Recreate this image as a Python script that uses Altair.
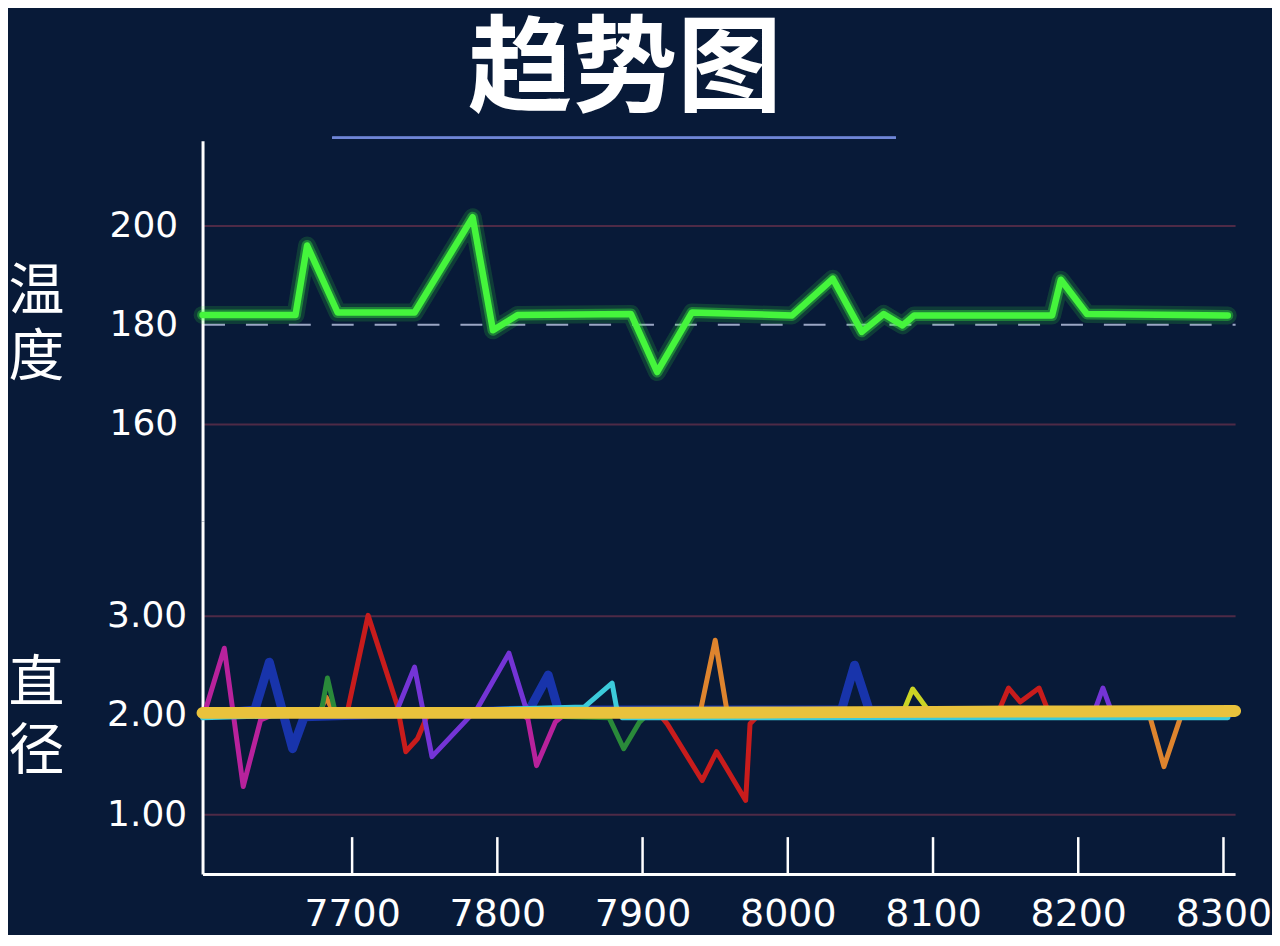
import altair as alt
import pandas as pd

# ---------------- data ----------------
# x position of each series point (sample index) and its value
temp_x = [7597, 7661, 7669, 7690, 7743, 7783, 7797, 7814, 7892, 7910, 7934,
          8003, 8031, 8051, 8066, 8079, 8087, 8182, 8188, 8206, 8303]
temp_y = [181.9, 181.9, 195.9, 182.4, 182.4, 201.6, 178.8, 181.9, 182.1, 170.4, 182.4,
          181.8, 189.2, 178.5, 182.1, 179.8, 181.8, 181.8, 189.0, 182.1, 181.8]

magenta_x = [7597, 7599, 7612, 7625, 7637, 7645, 7818, 7821, 7827, 7840, 7846, 8303]
magenta_y = [2.0, 2.05, 2.67, 1.28, 1.95, 2.0, 2.0, 1.96, 1.49, 1.93, 2.0, 2.0]

blue_x = [7597, 7633, 7643, 7659, 7667, 7822, 7835, 7842, 8037, 8046, 8056, 8303]
blue_y = [2.0, 2.05, 2.53, 1.66, 1.98, 2.05, 2.40, 2.05, 2.05, 2.50, 2.05, 2.0]

red_x = [7597, 7697, 7711, 7731, 7737, 7745, 7752, 7912, 7917, 7941, 7951, 7971,
         7974, 7980, 8144, 8147, 8152, 8160, 8173, 8179, 8183, 8303]
red_y = [2.0, 2.05, 3.0, 2.10, 1.63, 1.76, 2.0, 2.0, 1.91, 1.34, 1.63, 1.14,
         1.91, 2.0, 2.0, 2.10, 2.27, 2.13, 2.27, 2.05, 2.0, 2.0]

purple_x = [7597, 7731, 7743, 7755, 7786, 7808, 7819, 7824, 8211, 8217, 8223, 8303]
purple_y = [2.0, 2.05, 2.48, 1.58, 2.06, 2.62, 2.10, 2.0, 2.03, 2.27, 2.03, 2.0]

orange_x = [7597, 7678, 7682, 7687, 7937, 7940, 7950, 7958, 8249, 8259, 8271, 8303]
orange_y = [2.0, 2.03, 2.18, 2.03, 2.0, 2.05, 2.75, 2.05, 2.0, 1.48, 2.0, 2.0]

green_x = [7597, 7679, 7683, 7688, 7877, 7887, 7898, 7903, 8303]
green_y = [2.0, 2.05, 2.37, 2.05, 1.97, 1.66, 1.93, 2.0, 2.0]

cyan_x = [7597, 7860, 7879, 7882, 7886, 8303]
cyan_y = [1.97, 2.08, 2.32, 2.08, 1.97, 1.97]

lime_x = [7597, 8080, 8086, 8097, 8303]
lime_y = [2.0, 2.05, 2.26, 2.04, 2.0]

yellow_x = [7597, 7700, 7800, 7900, 8000, 8100, 8200, 8308]
yellow_y = [2.02, 2.02, 2.02, 2.022, 2.025, 2.03, 2.035, 2.04]

x_ticks = [7700, 7800, 7900, 8000, 8100, 8200, 8300]
temp_ticks = [160, 180, 200]
dia_ticks = [1.0, 2.0, 3.0]

series_colors = {
    "magenta": "#b8229c",
    "red": "#c81c1c",
    "purple": "#7434d6",
    "orange": "#de842e",
    "green": "#2a8a3a",
    "cyan": "#3ccbdc",
    "lime": "#cbd424",
    "blue": "#1e3ed2",
    "yellow": "#e9c23c",
}

# ---------------- tables ----------------
temp_df = pd.DataFrame({"x": temp_x, "v": temp_y})

def mk(name, xs, ys):
    return pd.DataFrame({"x": xs, "v": ys, "s": name, "o": range(len(xs))})

thin_df = pd.concat([
    mk("magenta", magenta_x, magenta_y),
    mk("red", red_x, red_y),
    mk("purple", purple_x, purple_y),
    mk("orange", orange_x, orange_y),
    mk("green", green_x, green_y),
    mk("cyan", cyan_x, cyan_y),
    mk("lime", lime_x, lime_y),
], ignore_index=True)
blue_df = mk("blue", blue_x, blue_y)
yellow_df = mk("yellow", yellow_x, yellow_y)
tick_df = pd.DataFrame({"t": x_ticks})

W = 1035
H_TOP = 381
H_BOT = 354
XDOM = [7597, 8308]

color_scale = alt.Scale(domain=list(series_colors.keys()), range=list(series_colors.values()))

# ---------------- top panel (temperature) ----------------
x_top = alt.X("x:Q", scale=alt.Scale(domain=XDOM, nice=False, zero=False), axis=None)
y_top = alt.Y(
    "v:Q",
    scale=alt.Scale(domain=[140.4, 217], nice=False, zero=False),
    axis=alt.Axis(
        values=temp_ticks,
        title=["温", "度"],
        titleAngle=0,
        titleX=-167,
        titleY=151,
        titleAlign="center",
        titleBaseline="middle",
        titleFont="Noto Sans CJK SC",
        titleFontSize=56,
        titleFontWeight="normal",
        titleLineHeight=66,
        titleColor="white",
        labelColor="white",
        labelFont="DejaVu Sans",
        labelFontSize=36,
        labelPadding=25,
        ticks=False,
        domainColor="white",
        domainWidth=3,
        grid=True,
        gridWidth=2,
        gridColor={"condition": {"test": "datum.value == 180", "value": "#9aa6c4"}, "value": "#4e2a46"},
        gridDash={"condition": {"test": "datum.value == 180", "value": [22, 21]}, "value": []},
    ),
)

temp_base = alt.Chart(temp_df).encode(x=x_top, y=y_top)
glow_outer = temp_base.mark_line(color="#3cff3c", strokeWidth=18, opacity=0.15, strokeJoin="round", strokeCap="round")
glow_inner = temp_base.mark_line(color="#3cff3c", strokeWidth=11, opacity=0.35, strokeJoin="round", strokeCap="round")
temp_line = temp_base.mark_line(color="#45f53c", strokeWidth=6.5, strokeJoin="round", strokeCap="round")

underline = alt.Chart(tick_df).mark_rule(color="#6f86d6", strokeWidth=2, opacity=0.9).encode(
    x=alt.value(130), x2=alt.value(695), y=alt.value(-3)
)

top = alt.layer(glow_outer, glow_inner, temp_line, underline).properties(width=W, height=H_TOP)

# ---------------- bottom panel (diameter) ----------------
x_bot = alt.X(
    "x:Q",
    scale=alt.Scale(domain=XDOM, nice=False, zero=False),
    axis=alt.Axis(
        values=x_ticks,
        title=None,
        format="d",
        labelColor="white",
        labelFont="DejaVu Sans",
        labelFontSize=38,
        labelPadding=22,
        ticks=False,
        grid=False,
        domainColor="white",
        domainWidth=3,
    ),
)
y_bot = alt.Y(
    "v:Q",
    scale=alt.Scale(domain=[0.4, 3.95], nice=False, zero=False),
    axis=alt.Axis(
        values=dia_ticks,
        format=".2f",
        title=["直", "径"],
        titleAngle=0,
        titleX=-167,
        titleY=163,
        titleAlign="center",
        titleBaseline="middle",
        titleFont="Noto Sans CJK SC",
        titleFontSize=56,
        titleFontWeight="normal",
        titleLineHeight=68,
        titleColor="white",
        labelColor="white",
        labelFont="DejaVu Sans",
        labelFontSize=36,
        labelPadding=16,
        ticks=False,
        domainColor="white",
        domainWidth=3,
        grid=True,
        gridWidth=2,
        gridColor="#4e2a46",
    ),
)

col = alt.Color("s:N", scale=color_scale, legend=None)

thin = alt.Chart(thin_df).mark_line(strokeWidth=5, strokeJoin="round", strokeCap="round").encode(
    x=x_bot, y=y_bot, color=col, detail="s:N", order="o:Q"
)
blue = alt.Chart(blue_df).mark_line(strokeWidth=9, opacity=0.75, strokeJoin="round", strokeCap="round").encode(
    x=x_bot, y=y_bot, color=col, order="o:Q"
)
yellow = alt.Chart(yellow_df).mark_line(strokeWidth=12, strokeCap="round").encode(
    x=x_bot, y=y_bot, color=col, order="o:Q"
)
ticks = alt.Chart(tick_df).mark_rule(color="white", strokeWidth=2.5).encode(
    x=alt.X("t:Q", scale=alt.Scale(domain=XDOM, nice=False, zero=False)),
    y=alt.value(H_BOT),
    y2=alt.value(H_BOT - 37),
)

bottom = alt.layer(blue, thin, yellow, ticks).properties(width=W, height=H_BOT)

chart = (
    alt.vconcat(top, bottom, spacing=0)
    .properties(
        title=alt.TitleParams(
            "趋势图",
            font="Noto Sans CJK SC",
            fontSize=105,
            fontWeight="bold",
            color="white",
            anchor="middle",
            frame="bounds",
            offset=12,
            dx=-15,
        ),
        padding={"left": 0, "top": 10, "right": 0, "bottom": 0},
        background="#081a38",
    )
    .configure_view(strokeWidth=0)
)

chart.save("out.html", embed_options={"renderer": "svg", "actions": False})
